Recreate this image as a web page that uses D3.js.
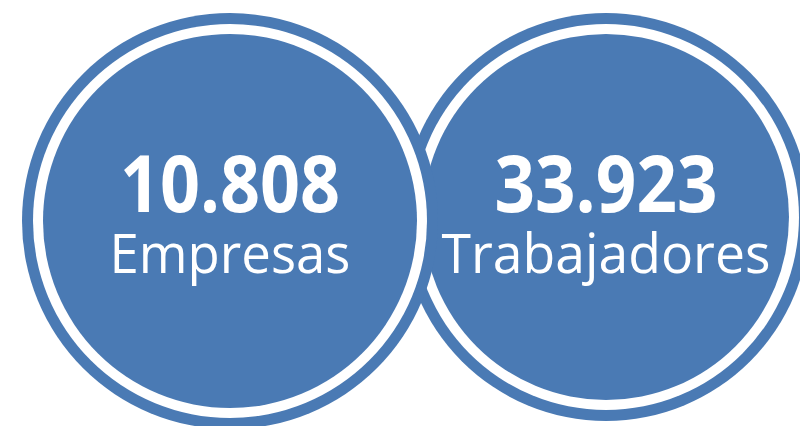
<!DOCTYPE html>
<html>
<head>
<meta charset="utf-8">
<script src="https://cdn.jsdelivr.net/npm/d3@7"></script>
<style>
html,body{margin:0;padding:0;background:#fff;}
svg{display:block;}
</style>
</head>
<body>
<svg id="chart" width="800" height="426"></svg>
<script>
// Data
const categories = ["Empresas", "Trabajadores"];
const values = ["10.808", "33.923"];

const W = 800, H = 426;
const blue = "#4a7ab4";
const svg = d3.select("#chart");

const x = d3.scalePoint().domain(categories).range([230, 606]);
const cy = {"Empresas": 221, "Trabajadores": 217};
const rOuter = {"Empresas": 208, "Trabajadores": 204};

// draw right first, left on top
const order = categories.slice().reverse();
const g = svg.selectAll("g.bubble").data(order).join("g")
  .attr("class","bubble")
  .attr("transform", d => `translate(${x(d)},${cy[d]})`);

g.append("circle").attr("r", d => rOuter[d]).attr("fill", blue);
g.append("circle").attr("r", d => rOuter[d] - 11).attr("fill", "#fff");
g.append("circle").attr("r", d => rOuter[d] - 21).attr("fill", blue);

const valWidth = {"Empresas": 220, "Trabajadores": 223};
const labWidth = {"Empresas": 241, "Trabajadores": 329};

const tg = svg.selectAll("g.txt").data(categories).join("g")
  .attr("class","txt")
  .attr("transform", d => `translate(${x(d)},0)`);

tg.append("text")
  .attr("x", 0).attr("y", 212)
  .attr("text-anchor","middle")
  .attr("font-family","'Open Sans', 'Noto Sans', sans-serif")
  .attr("font-weight", 700)
  .attr("font-size", 78)
  .attr("fill","#fff")
  .attr("textLength", d => valWidth[d])
  .attr("lengthAdjust","spacingAndGlyphs")
  .text(d => values[categories.indexOf(d)]);

tg.append("text")
  .attr("x", 0).attr("y", 273)
  .attr("text-anchor","middle")
  .attr("font-family","'Open Sans', 'Noto Sans', sans-serif")
  .attr("font-weight", 400)
  .attr("font-size", 55)
  .attr("fill","#fff")
  .attr("textLength", d => labWidth[d])
  .attr("lengthAdjust","spacingAndGlyphs")
  .text(d => d);
</script>
</body>
</html>
